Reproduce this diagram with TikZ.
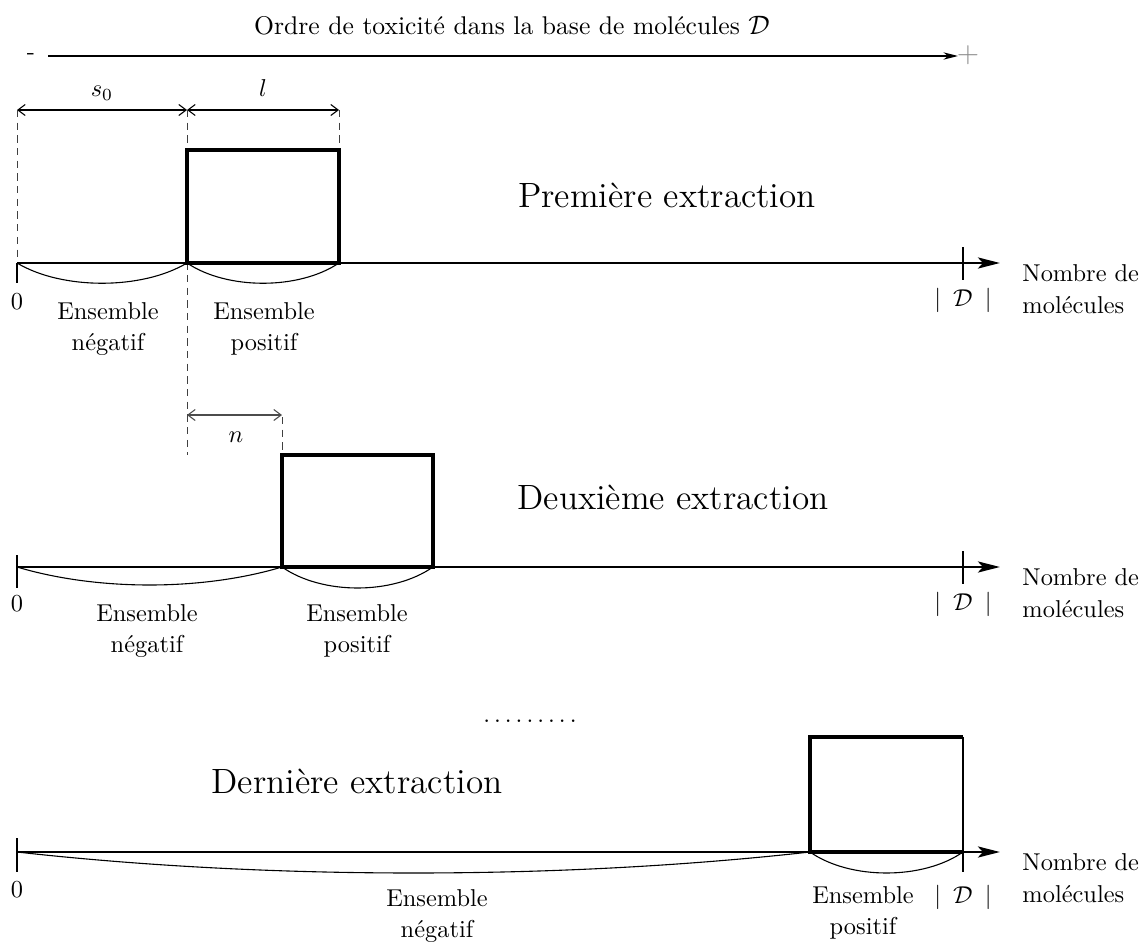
\documentclass[tikz,border=0pt]{standalone}
\usetikzlibrary{arrows.meta}
\begin{document}
\begin{tikzpicture}[x=0.41pt,y=-0.41pt,
  every node/.style={inner sep=0pt},
  axis/.style={line width=1.2pt,-{Stealth[length=9pt,width=4.5pt,inset=2pt]}},
  bar/.style={line width=1.3pt},
  sweep/.style={line width=0.45pt},
  guide/.style={line width=0.4pt,black!75,dash pattern=on 3pt off 2.2pt},
  dim/.style={line width=0.45pt,{Straight Barb[length=3pt,width=4.5pt]}-{Straight Barb[length=3pt,width=4.5pt]}},
  tickmark/.style={line width=0.45pt},
  lbl/.style={align=center,font=\normalsize\linespread{1.08}\selectfont},
  big/.style={font=\Large}]
\useasboundingbox (0,0) rectangle (1141,949);

% ---- toxicity order arrow ----
\coordinate (ol) at (48,56);
\coordinate (or) at (958,56);
\draw[line width=0.6pt,-{Stealth[length=6pt,width=3pt]}] (ol) -- (or);
\node (minus) at (31,57) {-};
\node[text=black!45,font=\large] (plus) at (968,55) {+};
\node[font=\fontsize{10.5pt}{12pt}\selectfont] (title) at (512,26) {Ordre de toxicité dans la base de molécules $\mathcal{D}$};

% ---- dimensions s0 and l ----
\coordinate (d0) at (17,110);
\coordinate (d1) at (187,110);
\coordinate (d2) at (339,110);
\draw[dim] (d0) -- (d1);
\draw[dim] (d1) -- (d2);
\node[anchor=base] (s0) at (102,97) {$s_0$};
\node[anchor=base] (ll) at (263,97) {$l$};

% ---- first extraction ----
\coordinate (a0) at (17,263);
\coordinate (a1) at (187,263);
\coordinate (a2) at (339,263);
\coordinate (aend) at (1000,263);
\draw[guide] (d0) -- (17,263);
\draw[guide] (d1) -- (187,455);
\draw[guide] (d2) -- (339,150);
\draw[bar] (a1) rectangle (339,150);
\draw[axis] (a0) -- (aend);
\draw[tickmark] (a0) -- (17,283);
\draw[tickmark] (963,247) -- (963,280);
\draw[sweep] (a0) .. controls +(45,27) and +(-45,27) .. (a1);
\draw[sweep] (a1) .. controls +(40,27) and +(-40,27) .. (a2);
\node (z1) at (17,302) {0};
\node (card1) at (963,300) {$|\enspace\mathcal{D}\enspace|$};
\node[lbl] (neg1) at (108,329) {Ensemble\\négatif};
\node[lbl] (pos1) at (264,329) {Ensemble\\positif};
\node[big] (t1) at (667,195) {Première extraction};
\node[lbl,anchor=west,align=left] (nb1) at (1022,289) {Nombre de\\molécules};

% ---- shift n ----
\coordinate (n0) at (187,415);
\coordinate (n1) at (282,415);
\draw[dim,black!70] (n0) -- (n1);
\node[anchor=base] (nn) at (236,442) {$n$};

% ---- second extraction ----
\coordinate (b0) at (17,567);
\coordinate (b1) at (282,567);
\coordinate (b2) at (433,567);
\coordinate (bend) at (1000,567);
\draw[guide] (282,417) -- (282,455);
\draw[bar] (b1) rectangle (433,455);
\draw[axis] (b0) -- (bend);
\draw[tickmark] (17,555) -- (17,588);
\draw[tickmark] (963,551) -- (963,584);
\draw[sweep] (b0) .. controls +(80,24) and +(-80,24) .. (b1);
\draw[sweep] (b1) .. controls +(40,28) and +(-40,28) .. (b2);
\node (z2) at (17,604) {0};
\node (card2) at (963,604) {$|\enspace\mathcal{D}\enspace|$};
\node[lbl] (neg2) at (147,631) {Ensemble\\négatif};
\node[lbl] (pos2) at (357,631) {Ensemble\\positif};
\node[big] (t2) at (673,497) {Deuxième extraction};
\node[lbl,anchor=west,align=left] (nb2) at (1022,593) {Nombre de\\molécules};

\node[anchor=base] (dots) at (530,722) {$\ldots\ldots\ldots$};

% ---- last extraction ----
\coordinate (c0) at (17,852);
\coordinate (c1) at (810,852);
\coordinate (c2) at (963,852);
\coordinate (cend) at (1000,852);
\draw[bar] (c2) -- (c1) -- (810,737) -- (963,737);
\draw[tickmark] (963,737) -- (963,872);
\draw[axis] (c0) -- (cend);
\draw[tickmark] (17,838) -- (17,872);
\draw[sweep] (c0) .. controls +(250,28) and +(-250,28) .. (c1);
\draw[sweep] (c1) .. controls +(40,28) and +(-40,28) .. (c2);
\node (z3) at (17,890) {0};
\node (card3) at (963,897) {$|\enspace\mathcal{D}\enspace|$};
\node[lbl] (neg3) at (437,916) {Ensemble\\négatif};
\node[lbl] (pos3) at (863,913) {Ensemble\\positif};
\node[big] (t3) at (357,781) {Dernière extraction};
\node[lbl,anchor=west,align=left] (nb3) at (1022,878) {Nombre de\\molécules};
\end{tikzpicture}
\end{document}
